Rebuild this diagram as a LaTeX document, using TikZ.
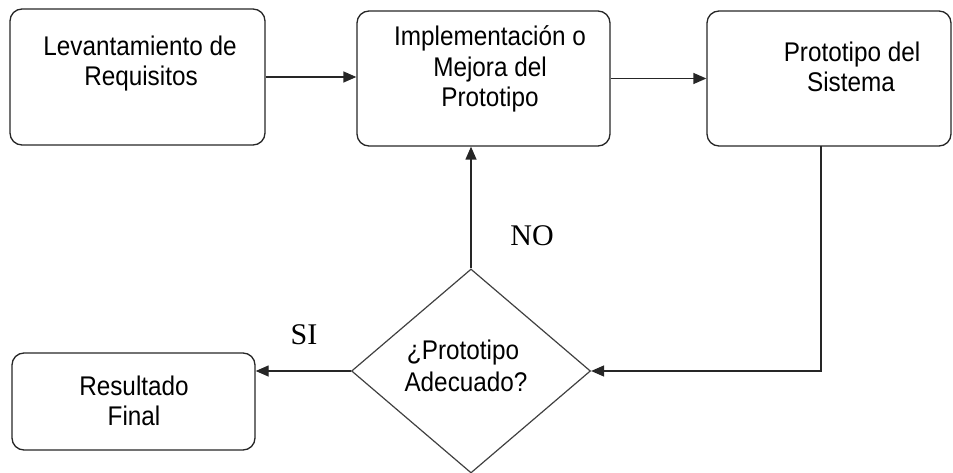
\documentclass[tikz,border=0pt]{standalone}
\usepackage{fontspec}
\newfontfamily\labfont[FakeStretch=0.9]{Liberation Sans}
\newfontfamily\serfont{Liberation Serif}
\usetikzlibrary{shapes.geometric,arrows.meta}
\begin{document}
\begin{tikzpicture}[x=1pt,y=-1pt,
  boxst/.style={draw=black!85,line width=1.3pt,rounded corners=12pt,inner sep=0pt},
  diast/.style={draw=black!75,line width=1.2pt,diamond,inner sep=0pt,minimum width=239pt,minimum height=204pt},
  txt/.style={font=\labfont\fontsize{27}{31}\selectfont,anchor=base,inner sep=0pt},
  lbl/.style={font=\serfont\fontsize{30}{34}\selectfont,anchor=base,inner sep=0pt},
  arr/.style={draw=black!85,line width=1.3pt,-{Triangle[length=13pt,width=11pt]}}]
\useasboundingbox (0,0) rectangle (953,473);
\node[boxst,minimum width=255pt,minimum height=136pt] (b1) at (137.5,77) {};
\node[boxst,minimum width=253pt,minimum height=135pt] (b2) at (483.5,78.5) {};
\node[boxst,minimum width=244pt,minimum height=135pt] (b3) at (829,78.5) {};
\node[boxst,minimum width=243pt,minimum height=97pt] (res) at (133.5,401.5) {};
\node[diast] (dia) at (471,371) {};
% texts
\node[txt] (t1a) at (140,56) {Levantamiento de};
\node[txt] (t1b) at (141,86) {Requisitos};
\node[txt] (t2a) at (490,46) {Implementación o};
\node[txt] (t2b) at (490,77) {Mejora del};
\node[txt] (t2c) at (490,107) {Prototipo};
\node[txt] (t3a) at (852,62) {Prototipo del};
\node[txt] (t3b) at (851,92) {Sistema};
\node[txt] (t4a) at (134,395) {Resultado};
\node[txt] (t4b) at (134,425) {Final};
\node[txt] (t5a) at (463,359) {¿Prototipo};
\node[txt] (t5b) at (466,391) {Adecuado?};
\node[lbl] (no) at (532,245) {NO};
\node[lbl] (si) at (304,344) {SI};
% connectors
\draw[arr] (b1.east) -- (b1.east -| b2.west);
\draw[arr] (b2.east) -- (b2.east -| b3.west);
\coordinate (c3) at (821,146);
\draw[arr] (c3) |- (dia.east);
\draw[arr] (dia.north) -- (dia.north |- b2.south);
\draw[arr] (dia.west) -- (dia.west -| res.east);
\end{tikzpicture}
\end{document}
